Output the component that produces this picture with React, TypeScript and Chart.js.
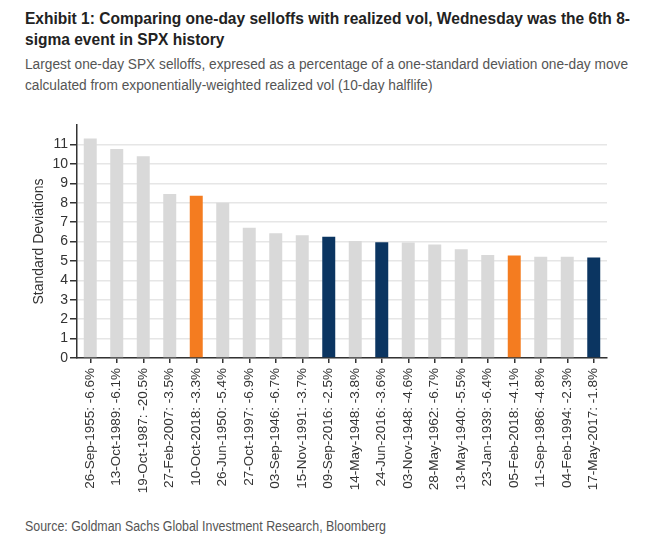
import React, { useEffect, useMemo, useRef } from 'react';
import { Chart, registerables } from 'chart.js';

Chart.register(...registerables);

const titleLines = [
  'Exhibit 1: Comparing one-day selloffs with realized vol, Wednesday was the 6th 8-',
  'sigma event in SPX history',
];
const subtitleLines = [
  'Largest one-day SPX selloffs, expresed as a percentage of a one-standard deviation one-day move',
  'calculated from exponentially-weighted realized vol (10-day halflife)',
];
const sourceText = 'Source: Goldman Sachs Global Investment Research, Bloomberg';
const yAxisTitle = 'Standard Deviations';

const categories = [
  '26-Sep-1955: -6.6%',
  '13-Oct-1989: -6.1%',
  '19-Oct-1987: -20.5%',
  '27-Feb-2007: -3.5%',
  '10-Oct-2018: -3.3%',
  '26-Jun-1950: -5.4%',
  '27-Oct-1997: -6.9%',
  '03-Sep-1946: -6.7%',
  '15-Nov-1991: -3.7%',
  '09-Sep-2016: -2.5%',
  '14-May-1948: -3.8%',
  '24-Jun-2016: -3.6%',
  '03-Nov-1948: -4.6%',
  '28-May-1962: -6.7%',
  '13-May-1940: -5.5%',
  '23-Jan-1939: -6.4%',
  '05-Feb-2018: -4.1%',
  '11-Sep-1986: -4.8%',
  '04-Feb-1994: -2.3%',
  '17-May-2017: -1.8%',
];

const values = [
  11.31, 10.76, 10.39, 8.45, 8.36, 8.0, 6.71, 6.43, 6.32, 6.24,
  6.03, 5.96, 5.95, 5.84, 5.6, 5.31, 5.28, 5.22, 5.21, 5.17,
];

const barKinds = [
  'other', 'other', 'other', 'other', 'orange', 'other', 'other', 'other', 'other', 'navy',
  'other', 'navy', 'other', 'other', 'other', 'other', 'orange', 'other', 'other', 'navy',
];

const yTickHidden = [12];

const kindColors: Record<string, string> = {
  other: '#d9d9d9',
  orange: '#f47c20',
  navy: '#0b3561',
};

const FAMILY = '"Liberation Sans", Arial, Helvetica, sans-serif';

function FitLines(props: {
  lines: string[];
  size: number;
  weight: number;
  color: string;
  top: number;
  left: number;
  width: number;
  lineHeight: number;
}) {
  const { lines, size, weight, color, top, left, width, lineHeight } = props;
  const scale = useMemo(() => {
    const ctx = document.createElement('canvas').getContext('2d');
    if (!ctx) return 1;
    ctx.font = `${weight} ${size}px ${FAMILY}`;
    const w = ctx.measureText(lines[0]).width;
    return w > 0 ? width / w : 1;
  }, [lines, size, weight, width]);
  return (
    <div
      style={{
        position: 'absolute',
        top,
        left,
        fontFamily: FAMILY,
        fontSize: size + 'px',
        fontWeight: weight,
        lineHeight: lineHeight + 'px',
        color,
        whiteSpace: 'nowrap',
        transform: `scaleX(${scale})`,
        transformOrigin: '0 0',
      }}
    >
      {lines.map((l) => (
        <div key={l}>{l}</div>
      ))}
    </div>
  );
}

export default function App() {
  const canvasRef = useRef<HTMLCanvasElement | null>(null);

  useEffect(() => {
    if (!canvasRef.current) return;
    const chart = new Chart(canvasRef.current, {
      type: 'bar',
      data: {
        labels: categories,
        datasets: [
          {
            data: values,
            backgroundColor: barKinds.map((k) => kindColors[k]),
            barPercentage: 0.49,
            categoryPercentage: 1,
            borderWidth: 0,
          },
        ],
      },
      options: {
        animation: false,
        responsive: false,
        layout: { padding: { top: 25, left: 27, right: 43, bottom: 0 } },
        plugins: {
          legend: { display: false },
          tooltip: { enabled: false },
          title: { display: false },
        },
        scales: {
          x: {
            offset: true,
            grid: {
              display: true,
              drawOnChartArea: false,
              drawTicks: true,
              tickLength: 5,
              offset: false,
              color: '#333333',
              lineWidth: 1.5,
            },
            border: { display: true, color: '#333333', width: 1.5 },
            ticks: {
              autoSkip: false,
              minRotation: 90,
              maxRotation: 90,
              padding: 5,
              color: '#333333',
              font: { family: FAMILY, size: 13.5 },
            },
            afterFit: (s: any) => {
              s.height = 152;
            },
          },
          y: {
            min: 0,
            max: 12,
            ticks: {
              stepSize: 1,
              autoSkip: false,
              padding: 2,
              color: '#333333',
              font: { family: FAMILY, size: 14 },
              callback: (v: any) => (yTickHidden.includes(Number(v)) ? '' : String(v)),
            },
            grid: {
              lineWidth: 1.5,
              tickLength: 7,
              color: (ctx: any) =>
                ctx.tick && yTickHidden.includes(ctx.tick.value) ? 'rgba(0,0,0,0)' : '#e6e6e6',
              tickColor: (ctx: any) =>
                ctx.tick && yTickHidden.includes(ctx.tick.value) ? 'rgba(0,0,0,0)' : '#333333',
            },
            border: { display: true, color: '#333333', width: 1.5 },
            title: {
              display: true,
              text: yAxisTitle,
              color: '#333333',
              font: { family: FAMILY, size: 14 },
              padding: { top: 4, bottom: 4 },
            },
            afterFit: (s: any) => {
              s.width = 50;
            },
          },
        },
      },
    });
    return () => chart.destroy();
  }, []);

  return (
    <div style={{ position: 'absolute', left: 0, top: 0, width: 650, height: 540, background: '#ffffff', overflow: 'hidden' }}>
      <FitLines lines={titleLines} size={16.5} weight={700} color="#222222" top={8} left={25} width={605} lineHeight={21} />
      <FitLines lines={subtitleLines} size={15.5} weight={400} color="#555555" top={53} left={25} width={603} lineHeight={21} />
      <canvas ref={canvasRef} width={650} height={410} style={{ position: 'absolute', left: 0, top: 100, width: 650, height: 410 }} />
      <FitLines lines={[sourceText]} size={15.5} weight={400} color="#555555" top={515} left={25} width={361} lineHeight={21} />
    </div>
  );
}
